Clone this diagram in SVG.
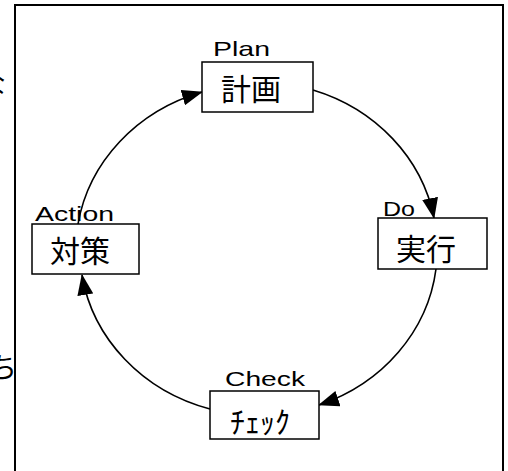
<svg xmlns="http://www.w3.org/2000/svg" width="508" height="471" viewBox="0 0 508 471">
<style>
.box{fill:#fff;stroke:#000;stroke-width:1.5}
.jp{font-family:"Noto Sans CJK JP","Noto Sans CJK SC",sans-serif;font-size:30px;fill:#000;text-anchor:middle;dominant-baseline:central}
.lb{font-family:"Liberation Sans",Arial,sans-serif;font-size:21px;fill:#000}
.frag{font-family:"Noto Sans CJK JP",serif;font-size:28px;fill:#000}
.arc{fill:none;stroke:#000;stroke-width:1.6}
.frame{fill:none;stroke:#000;stroke-width:2}
</style>
<defs>
<marker id="ah" markerUnits="userSpaceOnUse" markerWidth="21" markerHeight="16" viewBox="0 0 21 16" refX="20" refY="8" orient="auto">
<path d="M0,0 L21,8 L0,16 z" fill="#000"/>
</marker>
</defs>
<rect width="508" height="471" fill="#fff"/>
<text class="frag" x="-22" y="95">な</text>
<text class="frag" x="-11" y="378">ち</text>
<path class="frame" d="M15,471 V5 H503 V471"/>
<g id="connectors">
<path class="arc" d="M313,90 A180,166 0 0 1 434,218" marker-end="url(#ah)"/>
<path class="arc" d="M436,269 A180,166 0 0 1 319,405" marker-end="url(#ah)"/>
<path class="arc" d="M210,409 A180,166 0 0 1 82,275" marker-end="url(#ah)"/>
<path class="arc" d="M78,224 A180,166 0 0 1 202,92" marker-end="url(#ah)"/>
</g>
<g id="plan">
<rect class="box" x="202" y="62" width="111" height="50"/>
<text class="jp" x="251" y="87">計画</text>
<text class="lb" x="213" y="56" textLength="57" lengthAdjust="spacingAndGlyphs">Plan</text>
</g>
<g id="do">
<rect class="box" x="378" y="218" width="109" height="51"/>
<text class="jp" x="426" y="247">実行</text>
<text class="lb" x="383" y="216" textLength="32" lengthAdjust="spacingAndGlyphs">Do</text>
</g>
<g id="check">
<rect class="box" x="210" y="391" width="109" height="48"/>
<text class="jp" x="260" y="420">ﾁｪｯｸ</text>
<text class="lb" x="225" y="386" textLength="80" lengthAdjust="spacingAndGlyphs">Check</text>
</g>
<g id="action">
<rect class="box" x="32" y="224" width="107" height="50"/>
<text class="jp" x="80" y="249">対策</text>
<text class="lb" x="35" y="221" textLength="79" lengthAdjust="spacingAndGlyphs">Action</text>
</g>
</svg>
